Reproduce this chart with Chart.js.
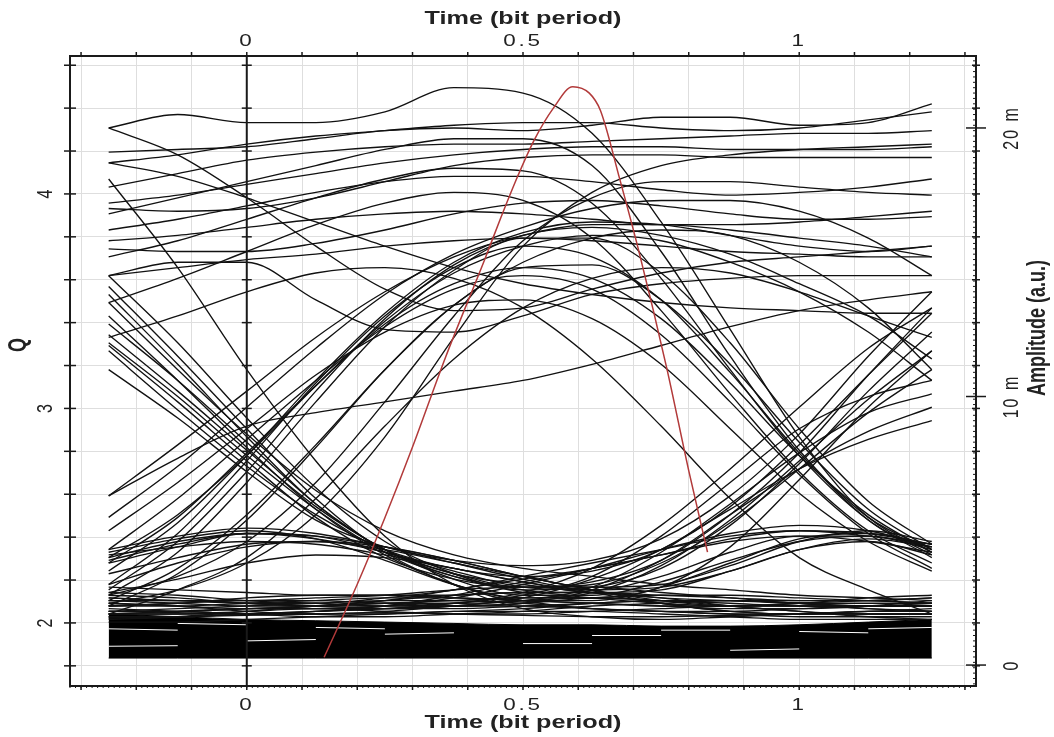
<!DOCTYPE html>
<html>
<head>
<meta charset="utf-8">
<script src="https://cdn.jsdelivr.net/npm/chart.js@4.4.1/dist/chart.umd.min.js"></script>
<style>
  html, body { margin: 0; padding: 0; background: #fff; }
</style>
</head>
<body>
<canvas id="eye" width="1054" height="737"></canvas>
<script>
// sample times (bit periods) shared by every eye trace
const timePoints = [-0.25, -0.125, 0, 0.125, 0.25, 0.375, 0.5, 0.625, 0.75, 0.875, 1, 1.125, 1.24];

// traces, amplitude in milli units (a.u.)
const levelHigh = [
  [19.1, 19.2, 19.3, 19.6, 19.9, 20.0, 19.9, 20.1, 20.4, 20.4, 20.1, 20.2, 20.9],
  [18.7, 19.0, 19.4, 19.7, 19.9, 20.1, 20.2, 20.2, 20.0, 19.9, 20.0, 20.3, 20.6],
  [17.8, 18.3, 18.8, 19.1, 19.3, 19.4, 19.4, 19.5, 19.6, 19.7, 19.8, 19.8, 19.9],
  [17.2, 17.5, 17.9, 18.3, 18.7, 19.0, 19.2, 19.3, 19.3, 19.2, 19.2, 19.2, 19.3],
  [17.0, 16.9, 17.0, 17.4, 18.0, 18.6, 18.9, 19.0, 19.0, 18.9, 18.9, 18.9, 18.9],
  [16.2, 16.6, 17.1, 17.6, 18.0, 18.2, 18.2, 18.0, 17.7, 17.5, 17.6, 17.8, 18.1],
  [15.8, 16.0, 16.3, 16.6, 16.8, 16.9, 16.8, 16.6, 16.4, 16.4, 16.5, 16.7, 16.9],
  [15.5, 15.4, 15.4, 15.7, 16.2, 16.8, 17.2, 17.3, 17.1, 16.8, 16.6, 16.6, 16.7],
  [20.0, 19.0, 17.4, 15.6, 14.0, 13.2, 13.3, 14.0, 14.6, 15.0, 15.2, 15.4, 15.6],
  [14.5, 15.0, 15.0, 13.6, 12.5, 12.4, 13.0, 13.8, 14.2, 14.4, 14.5, 14.5, 14.5],
  [18.7, 18.2, 17.4, 16.5, 15.6, 14.8, 14.2, 13.8, 13.5, 13.3, 13.2, 13.1, 13.1],
  [14.5, 14.8, 15.1, 15.3, 15.6, 15.8, 15.9, 15.8, 15.6, 15.4, 15.3, 15.2, 15.2]
];

const fallLeft = [
  [14.1, 11.5, 8.8, 6.2, 4.2, 3.0, 2.4, 2.1, 2.0, 2.0, 2.1, 2.2, 2.2],
  [13.8, 11.2, 8.5, 6.0, 4.3, 3.4, 3.0, 2.7, 2.5, 2.4, 2.3, 2.3, 2.3],
  [13.5, 11.0, 8.6, 6.5, 5.0, 4.1, 3.6, 3.3, 3.0, 2.8, 2.6, 2.5, 2.4],
  [12.0, 10.0, 7.8, 5.8, 4.2, 3.3, 2.8, 2.5, 2.3, 2.2, 2.2, 2.2, 2.2],
  [18.1, 14.8, 11.0, 7.6, 4.8, 3.0, 2.1, 1.8, 1.7, 1.8, 1.9, 2.0, 2.0],
  [12.7, 10.6, 8.3, 6.0, 4.3, 3.3, 2.8, 2.9, 3.6, 5.2, 7.5, 10.2, 12.4],
  [11.9, 9.8, 7.6, 5.5, 4.0, 3.2, 2.9, 3.1, 3.9, 5.6, 7.9, 10.8, 13.3],
  [14.5, 12.0, 9.2, 6.6, 4.6, 3.4, 2.7, 2.5, 2.9, 4.4, 6.9, 9.6, 11.7],
  [11.7, 9.5, 7.4, 5.6, 4.3, 3.6, 3.3, 3.5, 4.3, 5.9, 8.2, 10.8, 13.1],
  [11.0, 9.2, 7.2, 5.4, 4.4, 3.9, 3.7, 3.9, 4.7, 6.3, 8.6, 11.5, 13.9],
  [12.3, 10.2, 8.0, 5.9, 4.3, 3.2, 2.6, 2.6, 3.1, 3.9, 4.6, 4.8, 4.4],
  [13.0, 10.6, 8.1, 5.8, 4.1, 3.0, 2.4, 2.4, 2.9, 3.8, 4.7, 4.9, 4.5]
];

const riseLeft = [
  [6.3, 7.7, 8.9, 9.4, 9.8, 10.2, 10.6, 11.2, 11.9, 12.6, 13.2, 13.6, 13.9],
  [6.3, 8.2, 10.2, 12.2, 13.9, 15.2, 16.0, 16.4, 16.4, 16.2, 15.9, 15.6, 15.2],
  [5.5, 7.4, 9.6, 11.8, 13.8, 15.3, 16.3, 17.0, 17.3, 17.3, 16.9, 15.9, 14.5],
  [3.5, 5.3, 7.8, 10.6, 13.1, 15.0, 16.1, 16.5, 16.4, 16.0, 15.6, 15.4, 15.6],
  [2.8, 4.6, 7.2, 10.2, 12.9, 14.9, 16.0, 16.3, 16.0, 15.3, 14.2, 13.0, 11.4],
  [4.0, 5.6, 7.8, 10.4, 12.8, 14.6, 15.6, 16.0, 15.8, 15.0, 13.9, 12.4, 10.6],
  [2.4, 3.6, 5.6, 8.2, 11.0, 13.4, 15.0, 15.9, 16.2, 16.0, 15.0, 13.3, 11.0],
  [5.0, 6.8, 8.8, 10.8, 12.4, 13.4, 13.6, 12.9, 11.2, 8.8, 6.4, 4.6, 3.5],
  [4.3, 6.2, 8.4, 10.6, 12.6, 14.0, 14.5, 14.0, 12.3, 9.8, 7.1, 4.9, 3.6],
  [3.0, 4.9, 7.6, 10.5, 13.0, 14.8, 15.6, 15.2, 13.6, 10.9, 7.9, 5.4, 4.0],
  [2.6, 4.2, 6.8, 9.8, 12.6, 14.7, 15.9, 15.9, 14.6, 12.0, 8.8, 6.1, 4.5],
  [3.8, 5.5, 7.9, 10.4, 12.7, 14.2, 14.8, 14.4, 12.9, 10.5, 7.8, 5.6, 4.2],
  [2.2, 3.4, 5.4, 8.1, 11.0, 13.4, 14.8, 14.9, 13.6, 11.2, 8.3, 5.8, 4.3],
  [1.9, 2.8, 4.0, 6.2, 8.9, 11.4, 13.3, 14.4, 14.8, 14.6, 13.9, 13.0, 12.2],
  [2.3, 2.8, 3.8, 5.6, 8.5, 12.2, 15.6, 17.6, 18.6, 19.0, 19.2, 19.3, 19.4],
  [2.6, 3.3, 4.6, 6.8, 9.8, 13.0, 15.8, 17.4, 18.0, 18.0, 17.8, 17.6, 17.5]
];

const fallRight = [
  [20.0, 20.5, 20.2, 20.2, 20.6, 21.5, 21.3, 19.8, 16.5, 12.5, 8.5, 5.5, 4.2],
  [16.8, 17.4, 18.0, 18.6, 19.2, 19.6, 19.6, 18.6, 15.4, 11.5, 8.0, 5.5, 4.3],
  [15.2, 15.8, 16.6, 17.4, 18.1, 18.5, 18.4, 17.2, 14.4, 11.0, 7.8, 5.4, 4.1],
  [13.5, 14.4, 15.4, 16.4, 17.2, 17.6, 17.3, 15.9, 13.2, 10.1, 7.2, 5.0, 3.8],
  [12.2, 13.0, 13.9, 14.6, 14.8, 14.4, 13.3, 11.4, 8.9, 6.2, 4.0, 2.8, 1.9]
];

const riseRight = [
  [2.0, 2.0, 2.1, 2.2, 2.3, 2.3, 2.4, 2.9, 4.2, 6.0, 7.9, 9.4, 10.1],
  [2.2, 2.3, 2.4, 2.4, 2.3, 2.2, 2.3, 2.8, 3.9, 5.6, 7.3, 8.7, 9.6],
  [1.9, 1.9, 2.0, 2.1, 2.1, 2.2, 2.5, 3.2, 4.3, 5.8, 7.3, 8.4, 9.1],
  [2.4, 2.4, 2.3, 2.2, 2.2, 2.3, 2.6, 3.3, 4.8, 6.8, 8.8, 10.0, 10.6],
  [4.2, 4.7, 5.0, 4.7, 3.9, 3.0, 2.5, 2.7, 3.7, 5.4, 7.6, 9.9, 11.7],
  [3.8, 4.4, 4.9, 4.8, 4.2, 3.4, 2.9, 3.0, 3.8, 5.3, 7.3, 9.4, 11.0],
  [1.8, 1.8, 1.9, 2.0, 2.1, 2.3, 2.7, 3.6, 5.2, 7.3, 9.6, 11.8, 13.3]
];

const levelLow = [
  [4.3, 4.8, 5.1, 4.9, 4.4, 3.8, 3.2, 2.7, 2.3, 2.0, 1.9, 2.0, 2.0],
  [3.9, 4.5, 4.9, 4.8, 4.4, 3.9, 3.3, 2.8, 2.3, 2.0, 1.9, 1.9, 1.9],
  [4.1, 4.4, 4.6, 4.5, 4.1, 3.6, 3.1, 2.8, 2.9, 3.5, 4.3, 4.7, 4.4],
  [3.4, 4.0, 4.5, 4.6, 4.3, 3.8, 3.3, 2.9, 3.0, 3.7, 4.6, 5.0, 4.6],
  [3.0, 3.8, 4.4, 4.6, 4.4, 3.9, 3.3, 2.8, 2.4, 2.2, 2.3, 2.4, 2.5],
  [2.7, 3.2, 3.8, 4.1, 4.0, 3.6, 3.1, 2.7, 2.8, 3.5, 4.3, 4.6, 4.1],
  [2.0, 2.0, 2.1, 2.2, 2.4, 2.8, 3.2, 3.6, 4.1, 4.7, 5.0, 4.9, 4.5],
  [2.3, 2.2, 2.1, 2.1, 2.2, 2.5, 3.0, 3.6, 4.3, 4.9, 5.2, 5.0, 4.4],
  [1.9, 1.9, 1.9, 2.0, 2.2, 2.6, 3.1, 3.6, 4.1, 4.6, 4.8, 4.6, 4.2],
  [2.5, 2.4, 2.3, 2.3, 2.5, 2.8, 3.3, 3.8, 4.3, 4.8, 5.0, 4.8, 4.5],
  [4.0, 4.6, 4.9, 4.7, 4.2, 3.5, 2.9, 2.8, 3.3, 4.2, 4.8, 4.8, 4.3],
  [2.9, 2.8, 2.7, 2.6, 2.6, 2.6, 2.7, 2.7, 2.6, 2.5, 2.4, 2.4, 2.5],
  [2.5, 2.4, 2.4, 2.5, 2.6, 2.8, 2.9, 2.9, 2.7, 2.5, 2.3, 2.2, 2.2],
  [2.2, 2.2, 2.3, 2.4, 2.5, 2.5, 2.4, 2.3, 2.2, 2.1, 2.1, 2.2, 2.4],
  [2.0, 2.1, 2.2, 2.3, 2.4, 2.4, 2.3, 2.1, 2.0, 1.9, 1.9, 2.0, 2.1],
  [1.8, 1.8, 1.9, 2.0, 2.1, 2.2, 2.2, 2.1, 2.0, 1.9, 1.8, 1.8, 1.8],
  [2.6, 2.5, 2.3, 2.2, 2.1, 2.1, 2.2, 2.3, 2.4, 2.4, 2.3, 2.1, 2.0],
  [1.7, 1.8, 2.0, 2.2, 2.4, 2.6, 2.7, 2.7, 2.5, 2.2, 2.0, 1.8, 1.7],
  [2.3, 2.2, 2.0, 1.9, 1.9, 2.0, 2.1, 2.3, 2.4, 2.4, 2.3, 2.2, 2.2],
  [1.6, 1.6, 1.7, 1.8, 1.9, 2.0, 2.0, 2.0, 1.9, 1.8, 1.7, 1.7, 1.7],
  [2.1, 2.0, 1.9, 1.8, 1.8, 1.9, 2.0, 2.2, 2.3, 2.4, 2.4, 2.4, 2.3],
  [2.4, 2.3, 2.2, 2.2, 2.3, 2.4, 2.5, 2.5, 2.4, 2.3, 2.2, 2.2, 2.3],
  [1.9, 2.0, 2.1, 2.1, 2.0, 1.9, 1.9, 2.0, 2.1, 2.2, 2.2, 2.1, 2.0],
  [2.7, 2.6, 2.4, 2.3, 2.2, 2.2, 2.3, 2.5, 2.6, 2.6, 2.5, 2.4, 2.3],
  [1.75, 1.8, 1.85, 1.9, 1.95, 1.9, 1.85, 1.8, 1.8, 1.85, 1.9, 1.9, 1.9],
  [2.2, 2.3, 2.5, 2.6, 2.6, 2.5, 2.4, 2.3, 2.2, 2.2, 2.3, 2.5, 2.6],
  [2.0, 1.95, 1.9, 1.9, 2.0, 2.2, 2.4, 2.5, 2.4, 2.2, 2.0, 1.9, 1.9]
];

// the solid "zero" band and the light streaks seen inside it
const bandTop = [1.9, 1.8, 1.7, 1.65, 1.6, 1.55, 1.5, 1.5, 1.45, 1.45, 1.5, 1.6, 1.7];
const bandBase = [0.26, 0.26, 0.26, 0.26, 0.26, 0.26, 0.26, 0.26, 0.26, 0.26, 0.26, 0.26, 0.26];
const bandStreaks = [
  [1.35, 1.3, null, null, null, null, null, 1.1, 1.1, null, null, null, null],
  [null, null, 0.9, 0.95, null, null, null, null, null, null, 1.25, 1.2, null],
  [null, null, null, null, 1.15, 1.2, null, null, null, null, null, null, null],
  [0.7, 0.72, null, null, null, null, 0.8, 0.8, null, null, null, null, null],
  [null, null, null, null, null, null, null, null, null, 0.55, 0.6, null, null],
  [null, 1.55, 1.5, null, null, null, null, null, null, null, null, 1.35, 1.4],
  [null, null, null, 1.4, 1.35, null, null, null, 1.3, 1.3, null, null, null]
];

// Q factor curve (left axis)
const qTime = [0.14, 0.2, 0.25, 0.3, 0.36, 0.43, 0.46, 0.49, 0.52, 0.555, 0.59, 0.62, 0.64, 0.675, 0.71, 0.76, 0.8, 0.834];
const qValue = [1.84, 2.18, 2.49, 2.82, 3.24, 3.69, 3.89, 4.08, 4.25, 4.40, 4.50, 4.47, 4.39, 4.07, 3.73, 3.19, 2.71, 2.33];

// tick labels
const timeLabels = [0, 0.5, 1];
const qLabels = [2, 3, 4];
const ampLabels = [0, 10, 20];

const textStretch = 1.4;
const fontFamily = '"Liberation Sans", Arial, sans-serif';

function toPoints(values) {
  return values.map((v, i) => ({ x: timePoints[i], y: v }));
}

function traceSet(list, color, width) {
  return list.map(values => ({
    data: toPoints(values),
    yAxisID: 'amp',
    borderColor: color || '#111',
    borderWidth: width || 1.35,
    pointRadius: 0,
    fill: false,
    spanGaps: false,
    cubicInterpolationMode: 'monotone'
  }));
}

// Chart.js paints the first dataset last, so the red curve goes first and the band last
const datasets = [
  { data: qTime.map((t, i) => ({ x: t, y: qValue[i] })), yAxisID: 'q',
    borderColor: '#b23a3a', borderWidth: 1.5, pointRadius: 0, fill: false, cubicInterpolationMode: 'monotone' },
  ...traceSet(levelHigh),
  ...traceSet(fallRight),
  ...traceSet(riseLeft),
  ...traceSet(fallLeft),
  ...traceSet(riseRight),
  ...traceSet(levelLow),
  ...traceSet(bandStreaks, '#fff', 1),
  { data: toPoints(bandTop), yAxisID: 'amp', borderColor: '#000', borderWidth: 1, pointRadius: 0,
    fill: '+1', backgroundColor: '#000', cubicInterpolationMode: 'monotone' },
  { data: toPoints(bandBase), yAxisID: 'amp', borderColor: '#000', borderWidth: 1, pointRadius: 0, fill: false }
];

function strokeLine(ctx, x1, y1, x2, y2) {
  ctx.beginPath();
  ctx.moveTo(x1, y1);
  ctx.lineTo(x2, y2);
  ctx.stroke();
}

function drawText(ctx, text, x, y, font, rotate, spacing) {
  ctx.save();
  ctx.translate(x, y);
  ctx.scale(textStretch, 1);
  if (rotate) ctx.rotate(rotate);
  ctx.font = font;
  ctx.letterSpacing = spacing || '0px';
  ctx.fillStyle = '#222';
  ctx.textAlign = 'center';
  ctx.textBaseline = 'middle';
  ctx.fillText(text, 0, 0);
  ctx.restore();
}

const frameDecor = {
  id: 'frameDecor',
  afterDatasetsDraw(chart) {
    const { ctx, chartArea: a, scales } = chart;
    const xs = scales.x, qs = scales.q, as = scales.amp;
    ctx.save();
    ctx.strokeStyle = '#1a1a1a';

    // marker line at t = 0
    const x0 = xs.getPixelForValue(0);
    ctx.lineWidth = 2;
    strokeLine(ctx, x0, a.top, x0, a.bottom);

    // frame
    ctx.strokeRect(a.left, a.top, a.right - a.left, a.bottom - a.top);

    // Q ticks as small crosses
    ctx.lineWidth = 1.5;
    qs.ticks.forEach(t => {
      const y = qs.getPixelForValue(t.value);
      strokeLine(ctx, a.left - 6, y, a.left + 6, y);
      strokeLine(ctx, x0 - 5, y, x0 + 5, y);
      strokeLine(ctx, a.right - 4, y, a.right + 4, y);
    });

    // time ticks on top and bottom
    xs.ticks.forEach(t => {
      const x = xs.getPixelForValue(t.value);
      strokeLine(ctx, x, a.top - 4, x, a.top);
      strokeLine(ctx, x, a.bottom, x, a.bottom + 4);
    });

    // dense minor ticks along the bottom and right edges
    ctx.lineWidth = 1;
    for (let v = -0.32; v <= 1.32; v += 0.01) {
      const x = xs.getPixelForValue(v);
      strokeLine(ctx, x, a.bottom, x, a.bottom + 2);
    }
    for (let v = -0.7; v <= 22.6; v += 0.2) {
      const y = as.getPixelForValue(v);
      strokeLine(ctx, a.right - 3, y, a.right, y);
    }

    // amplitude major ticks
    ctx.lineWidth = 1.5;
    ampLabels.forEach(v => {
      const y = as.getPixelForValue(v);
      strokeLine(ctx, a.right - 10, y, a.right + 10, y);
    });

    // labels
    const tickFont = '16px ' + fontFamily;
    const titleFont = 'bold 18px ' + fontFamily;
    timeLabels.forEach(v => {
      const x = xs.getPixelForValue(v);
      drawText(ctx, String(v), x, a.top - 14, tickFont, 0, '2px');
      drawText(ctx, String(v), x, a.bottom + 20, tickFont, 0, '2px');
    });
    drawText(ctx, 'Time (bit period)', (a.left + a.right) / 2, 19, titleFont);
    drawText(ctx, 'Time (bit period)', (a.left + a.right) / 2, 723, titleFont);

    qLabels.forEach(v => {
      drawText(ctx, String(v), 46, qs.getPixelForValue(v), tickFont, -Math.PI / 2);
    });
    drawText(ctx, 'Q', 19, 345, titleFont, -Math.PI / 2);

    ampLabels.forEach(v => {
      drawText(ctx, v === 0 ? '0' : v + ' m', 1012, as.getPixelForValue(v), tickFont, -Math.PI / 2, '2px');
    });
    drawText(ctx, 'Amplitude (a.u.)', 1038, 328, titleFont, -Math.PI / 2);

    ctx.restore();
  }
};

new Chart(document.getElementById('eye'), {
  type: 'line',
  data: { datasets },
  options: {
    responsive: false,
    animation: false,
    parsing: false,
    layout: { padding: { left: 70, right: 78, top: 56, bottom: 51 } },
    plugins: { legend: { display: false }, tooltip: { enabled: false } },
    scales: {
      x: {
        type: 'linear', position: 'bottom', min: -0.32, max: 1.32,
        ticks: { display: false, stepSize: 0.1, includeBounds: false },
        grid: { color: '#dedede', lineWidth: 1, drawTicks: false },
        border: { display: false }
      },
      q: {
        type: 'linear', position: 'left', min: 1.706, max: 4.643,
        ticks: { display: false, stepSize: 0.2, includeBounds: false },
        grid: { color: '#dedede', lineWidth: 1, drawTicks: false },
        border: { display: false }
      },
      amp: {
        type: 'linear', position: 'right', min: -0.78, max: 22.68,
        display: false
      }
    }
  },
  plugins: [frameDecor]
});
</script>
</body>
</html>
